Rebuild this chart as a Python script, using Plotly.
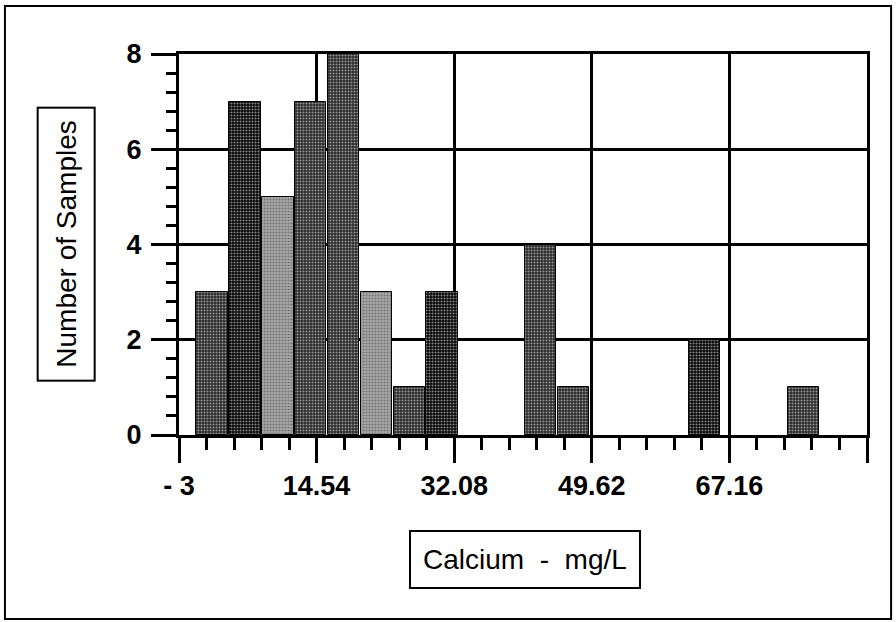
import plotly.graph_objects as go

# histogram bins (bin centres in mg/L)
bin_centers = [1.23, 5.42, 9.61, 13.79, 17.98, 22.16, 26.35, 30.54, 34.72, 38.91,
               43.09, 47.28, 51.47, 55.65, 59.84, 64.02, 68.21, 72.40, 76.58]
counts = [3, 7, 5, 7, 8, 3, 1, 3, 0, 0, 4, 1, 0, 0, 0, 2, 0, 0, 1]

x_tick_vals = [-3, 14.54, 32.08, 49.62, 67.16, 84.70]
x_tick_text = ["- 3", "14.54", "32.08", "49.62", "67.16", ""]
y_tick_vals = [0, 2, 4, 6, 8]

# stipple shading of each bar: dark, medium or light
shade = ["m", "d", "l", "m", "m", "l", "m", "d", "m", "m",
         "m", "m", "m", "m", "m", "d", "m", "m", "m"]
bg_map = {"d": "#050505", "m": "#282828", "l": "#a8a8a8"}
fg_map = {"d": "#5a5a5a", "m": "#b4b4b4", "l": "#eeeeee"}

FONT = "Liberation Sans, Arial, Helvetica, sans-serif"

fig = go.Figure()

fig.add_trace(go.Bar(
    x=bin_centers,
    y=counts,
    width=4.0,
    marker=dict(
        color=[bg_map[s] for s in shade],
        # empty bins get no outline
        line=dict(color="black", width=[1 if c > 0 else 0 for c in counts]),
        pattern=dict(
            shape=".",
            bgcolor=[bg_map[s] for s in shade],
            fgcolor=[fg_map[s] for s in shade],
            size=3,
            solidity=0.4,
        ),
    ),
    showlegend=False,
))

fig.update_xaxes(
    range=[-3, 84.70],
    tickmode="array",
    tickvals=x_tick_vals,
    ticktext=x_tick_text,
    ticks="outside",
    ticklen=25,
    tickwidth=3,
    tickcolor="black",
    ticklabelstandoff=0,
    tickfont=dict(family=FONT, size=27, color="black", weight="bold"),
    showgrid=True,
    gridcolor="black",
    gridwidth=2.5,
    showline=True,
    linecolor="black",
    linewidth=3,
    mirror=True,
    zeroline=False,
    minor=dict(tick0=-3, dtick=3.508, ticks="outside", ticklen=12,
               tickwidth=2.5, tickcolor="black", showgrid=False),
)

fig.update_yaxes(
    range=[0, 8],
    tickmode="array",
    tickvals=y_tick_vals,
    ticks="outside",
    ticklen=25,
    tickwidth=3,
    tickcolor="black",
    ticklabelstandoff=4,
    tickfont=dict(family=FONT, size=27, color="black", weight="bold"),
    showgrid=True,
    gridcolor="black",
    gridwidth=2.5,
    showline=True,
    linecolor="black",
    linewidth=3,
    mirror=True,
    zeroline=False,
    minor=dict(tick0=0, dtick=0.4, ticks="outside", ticklen=10,
               tickwidth=2.5, tickcolor="black", showgrid=False),
)

# boxed axis titles
fig.add_annotation(
    text="Number of Samples",
    xref="paper", yref="paper", x=-0.164, y=0.50,
    xanchor="center", yanchor="middle",
    textangle=-90, showarrow=False,
    font=dict(family=FONT, size=28, color="black"),
    bordercolor="black", borderwidth=2, borderpad=12, bgcolor="white",
)
fig.add_annotation(
    text="Calcium  -  mg/L",
    xref="paper", yref="paper", x=0.503, y=-0.328,
    xanchor="center", yanchor="middle",
    showarrow=False,
    font=dict(family=FONT, size=28, color="black"),
    bordercolor="black", borderwidth=2, borderpad=12, bgcolor="white",
)

# outer frame around the whole chart
fig.add_shape(
    type="rect", xref="paper", yref="paper",
    x0=-0.253, x1=1.035, y0=-0.483, y1=1.126,
    line=dict(color="black", width=2),
)

fig.update_layout(
    width=896,
    height=622,
    margin=dict(l=179, r=29, t=54, b=187),
    paper_bgcolor="white",
    plot_bgcolor="white",
    bargap=0,
)

fig.write_html(
    "out.html",
    config={"displayModeBar": False},
    post_script="document.body.style.margin='0';document.body.style.overflow='hidden';",
)
